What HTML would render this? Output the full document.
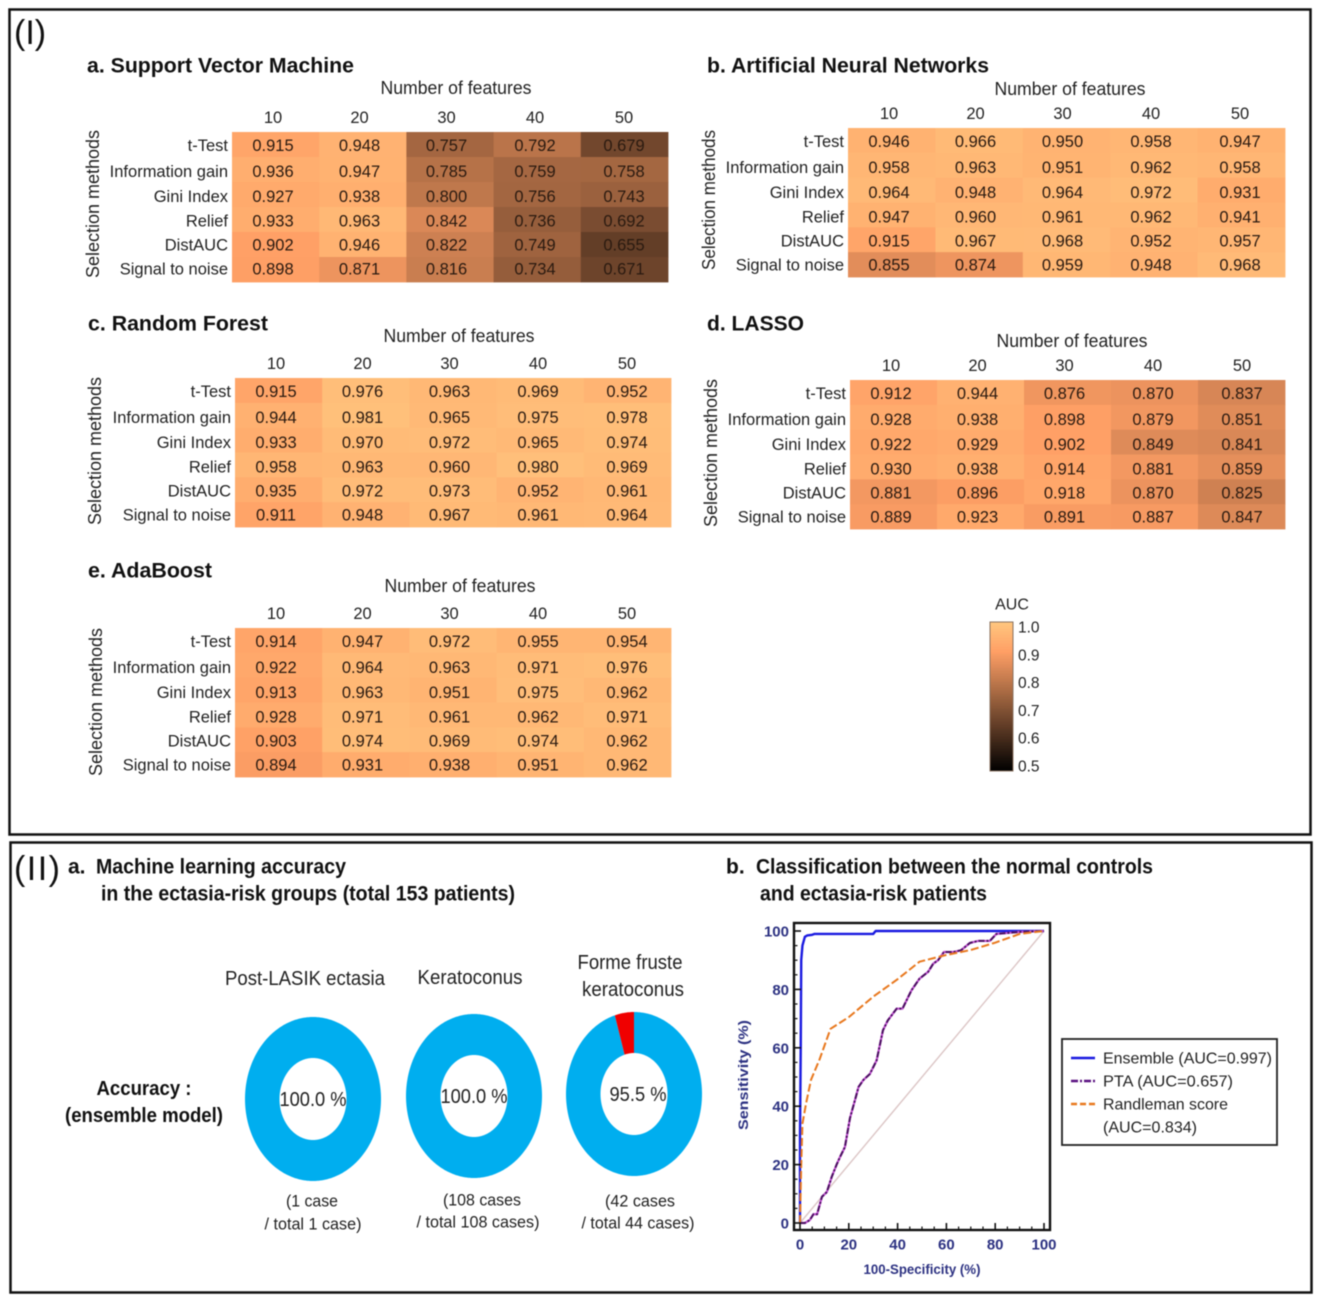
<!DOCTYPE html>
<html>
<head>
<meta charset="utf-8">
<title>AUC heatmaps and ensemble model results</title>
<style>
  html, body { margin: 0; padding: 0; background: #fff; }
  body { width: 1325px; height: 1306px; overflow: hidden; }
  svg { display: block; filter: blur(0.55px); font-family: "Liberation Sans", sans-serif; }
</style>
</head>
<body>
<svg id="figure" xmlns="http://www.w3.org/2000/svg" width="1325" height="1306" viewBox="0 0 1325 1306">
  <rect x="0" y="0" width="1325" height="1306" fill="#fff"/>
  <rect x="9.5" y="9.5" width="1301" height="825" fill="none" stroke="#111" stroke-width="2.5"/>
  <rect x="10.5" y="842.5" width="1301" height="450" fill="none" stroke="#111" stroke-width="2.5"/>
  <text x="14" y="44" font-size="34" fill="#111">(I)</text>
  <text x="14" y="880" font-size="34" fill="#111" textLength="46" lengthAdjust="spacing">(II)</text>
</svg>
<script>
// ---------- heatmap data ----------
const featureCounts = [10, 20, 30, 40, 50];
const selectionMethods = ['t-Test', 'Information gain', 'Gini Index', 'Relief', 'DistAUC', 'Signal to noise'];
const svmValues = [
  [0.915, 0.948, 0.757, 0.792, 0.679],
  [0.936, 0.947, 0.785, 0.759, 0.758],
  [0.927, 0.938, 0.800, 0.756, 0.743],
  [0.933, 0.963, 0.842, 0.736, 0.692],
  [0.902, 0.946, 0.822, 0.749, 0.655],
  [0.898, 0.871, 0.816, 0.734, 0.671]
];
const annValues = [
  [0.946, 0.966, 0.950, 0.958, 0.947],
  [0.958, 0.963, 0.951, 0.962, 0.958],
  [0.964, 0.948, 0.964, 0.972, 0.931],
  [0.947, 0.960, 0.961, 0.962, 0.941],
  [0.915, 0.967, 0.968, 0.952, 0.957],
  [0.855, 0.874, 0.959, 0.948, 0.968]
];
const rfValues = [
  [0.915, 0.976, 0.963, 0.969, 0.952],
  [0.944, 0.981, 0.965, 0.975, 0.978],
  [0.933, 0.970, 0.972, 0.965, 0.974],
  [0.958, 0.963, 0.960, 0.980, 0.969],
  [0.935, 0.972, 0.973, 0.952, 0.961],
  [0.911, 0.948, 0.967, 0.961, 0.964]
];
const lassoValues = [
  [0.912, 0.944, 0.876, 0.870, 0.837],
  [0.928, 0.938, 0.898, 0.879, 0.851],
  [0.922, 0.929, 0.902, 0.849, 0.841],
  [0.930, 0.938, 0.914, 0.881, 0.859],
  [0.881, 0.896, 0.918, 0.870, 0.825],
  [0.889, 0.923, 0.891, 0.887, 0.847]
];
const adaValues = [
  [0.914, 0.947, 0.972, 0.955, 0.954],
  [0.922, 0.964, 0.963, 0.971, 0.976],
  [0.913, 0.963, 0.951, 0.975, 0.962],
  [0.928, 0.971, 0.961, 0.962, 0.971],
  [0.903, 0.974, 0.969, 0.974, 0.962],
  [0.894, 0.931, 0.938, 0.951, 0.962]
];
const colorbarTicks = [1.0, 0.9, 0.8, 0.7, 0.6, 0.5];

// ---------- donut data ----------
const donutNames = ['post-lasik', 'keratoconus', 'forme-fruste'];
const donutCorrect = [1, 108, 42];
const donutTotal = [1, 108, 44];
const donutLabels = ['100.0 %', '100.0 %', '95.5 %'];

// ---------- ROC data ----------
const rocXTicks = [0, 20, 40, 60, 80, 100];
const rocYTicks = [0, 20, 40, 60, 80, 100];
const ensembleFpr = [0, 0, 0.3, 0.5, 1, 2, 3, 5, 6, 30, 31, 100];
const ensembleTpr = [0, 30, 60, 90, 95, 98, 98.5, 98.7, 99, 99, 100, 100];
const ptaFpr = [0, 2, 4, 5.5, 7, 9, 11, 13, 15, 16.4, 18.4, 20.5, 22.5, 24, 26, 28.6, 31.4, 34, 36, 39.6, 42, 45.7, 49, 52.5, 54.6, 56.6, 59, 62.8, 66, 69.6, 73, 77.8, 80.5, 84.6, 90, 100];
const ptaTpr = [0, 0, 1, 3, 3, 9, 10.6, 15.8, 20, 22.6, 26, 36, 42, 46.6, 49, 51, 55.7, 66, 69.4, 73.4, 73.4, 79.7, 83.7, 86, 88.8, 90, 92.8, 92.8, 93.4, 95.9, 96.6, 96.6, 99, 99.3, 99.7, 100];
const randlemanFpr = [0, 0.5, 1, 2.5, 4.5, 8, 12.5, 20, 30, 40, 49, 60, 70, 80, 90, 100];
const randlemanTpr = [0, 20, 34, 41, 49, 56, 66.5, 70.5, 77.5, 83.5, 89.5, 91.8, 93.5, 96, 99, 100];

// ---------- helpers ----------
const NS = 'http://www.w3.org/2000/svg';
const root = document.getElementById('figure');

function make(tag, name, parent) {
  const el = document.createElementNS(NS, tag);
  
  
  parent.appendChild(el);
  return el;
}
function setAll(el, props) {
  for (const k in props) el.setAttribute(k, props[k]);
  return el;
}
function label(parent, name, str, x, y, o) {
  o = o || {};
  const t = make('text', name, parent);
  if (!o.rot) y += 1;
  t.textContent = str;
  t.setAttribute('x', x);
  t.setAttribute('y', y);
  t.setAttribute('font-size', o.size || 17);
  t.setAttribute('fill', o.fill || '#222');
  t.setAttribute('text-anchor', o.anchor || 'middle');
  t.setAttribute('dominant-baseline', 'central');
  if (o.weight) t.setAttribute('font-weight', o.weight);
  if (o.len) {
    t.setAttribute('textLength', o.len);
    t.setAttribute('lengthAdjust', 'spacingAndGlyphs');
  }
  if (o.rot) t.setAttribute('transform', 'rotate(' + o.rot + ' ' + x + ' ' + y + ')');
  return t;
}
// copper colormap over AUC 0.5 - 1.0
function aucColor(v) {
  const t = Math.max(0, Math.min(1, (v - 0.5) / 0.5));
  const r = Math.min(1, 1.25 * t), g = 0.7812 * t, b = 0.4975 * t;
  return 'rgb(' + Math.round(r * 255) + ',' + Math.round(g * 255) + ',' + Math.round(b * 255) + ')';
}

// ---------- heatmaps ----------
// label placement in the source is slightly irregular
const columnLabelOffsets = [0, 86.5, 173.5, 262, 351];
const rowLabelOffsets = [0, 26, 51, 75.5, 99.5, 123.5];

function drawHeatmap(cfg) {
  const g = make('g', 'heatmap-' + cfg.key, root);
  label(g, 'panel-title', cfg.title, cfg.titleX, cfg.titleY, { size: 21, weight: 'bold', anchor: 'start', fill: '#111', len: cfg.titleLen });
  label(g, 'x-axis-title', 'Number of features', cfg.xTitleX, cfg.xTitleY, { size: 18, len: 151 });
  label(g, 'y-axis-title', 'Selection methods', cfg.yTitleX, cfg.yTitleY, { size: 18, rot: -90, len: cfg.yTitleLen || 148 });
  const cw = cfg.w / featureCounts.length;
  const ch = cfg.h / selectionMethods.length;
  const xCell = c => cfg.x + c * cw;
  const yCell = r => cfg.y + r * ch;
  const xText = c => cfg.x + 41 + columnLabelOffsets[c];
  const yText = r => cfg.y + 13 + rowLabelOffsets[r];
  featureCounts.forEach((f, c) => {
    label(g, 'column-label-' + f, String(f), xText(c), cfg.colY, { size: 16.5 });
  });
  selectionMethods.forEach((m, r) => {
    label(g, 'row-label', m, cfg.x - 4, yText(r), { size: 16.5, anchor: 'end' });
    cfg.values[r].forEach((v, c) => {
      const rect = make('rect', 'heatmap-cell', g);
      setAll(rect, { x: xCell(c), y: yCell(r), width: cw + 0.4, height: ch + 0.4, fill: aucColor(v) });
    });
  });
  selectionMethods.forEach((m, r) => {
    cfg.values[r].forEach((v, c) => {
      label(g, 'cell-value', v.toFixed(3), xText(c), yText(r), { size: 16.5, fill: '#2a1a10' });
    });
  });
}

drawHeatmap({ key: 'svm', title: 'a. Support Vector Machine', titleLen: 267, titleX: 87, titleY: 65, xTitleX: 456, xTitleY: 87, yTitleX: 93, yTitleY: 204, colY: 117, x: 232, y: 132, w: 436, h: 150, values: svmValues });
drawHeatmap({ key: 'ann', title: 'b. Artificial Neural Networks', titleLen: 282, titleX: 707, titleY: 65, xTitleX: 1070, xTitleY: 88, yTitleX: 709, yTitleY: 200, yTitleLen: 140, colY: 113, x: 848, y: 128, w: 437, h: 149, values: annValues });
drawHeatmap({ key: 'rf', title: 'c. Random Forest', titleLen: 180, titleX: 88, titleY: 323, xTitleX: 459, xTitleY: 335, yTitleX: 95, yTitleY: 451, colY: 363, x: 235, y: 378, w: 436, h: 149, values: rfValues });
drawHeatmap({ key: 'lasso', title: 'd. LASSO', titleLen: 97, titleX: 707, titleY: 323, xTitleX: 1072, xTitleY: 340, yTitleX: 711, yTitleY: 453, colY: 365, x: 850, y: 380, w: 435, h: 149, values: lassoValues });
drawHeatmap({ key: 'ada', title: 'e. AdaBoost', titleLen: 124, titleX: 88, titleY: 570, xTitleX: 460, xTitleY: 585, yTitleX: 96, yTitleY: 702, colY: 613, x: 235, y: 628, w: 436, h: 149, values: adaValues });

// ---------- colorbar ----------
(function () {
  const g = make('g', 'colorbar', root);
  const defs = make('defs', 'colorbar-defs', g);
  const grad = make('linearGradient', 'colorbar-gradient', defs);
  setAll(grad, { id: 'copperGrad', x1: 0, y1: 0, x2: 0, y2: 1 });
  for (let i = 0; i <= 10; i++) {
    const s = make('stop', 'colorbar-stop', grad);
    setAll(s, { offset: i / 10, 'stop-color': aucColor(1 - i * 0.05) });
  }
  const x0 = 990, top = 622, bottom = 771;
  const yBar = v => 627 + (1.0 - v) / 0.5 * 139;
  const bar = make('rect', 'colorbar-ramp', g);
  setAll(bar, { x: x0, y: top, width: 23, height: bottom - top, fill: 'url(#copperGrad)', stroke: '#8a7260', 'stroke-width': 1 });
  label(g, 'colorbar-title', 'AUC', 1012, 604, { size: 16 });
  colorbarTicks.forEach(v => {
    label(g, 'colorbar-tick-label', v.toFixed(1), 1018, yBar(v), { size: 15.5, anchor: 'start' });
  });
})();

// ---------- section II a ----------
(function () {
  const g = make('g', 'accuracy-panel', root);
  label(g, 'panel-letter', 'a.', 68, 866, { size: 21, weight: 'bold', anchor: 'start', fill: '#111' });
  label(g, 'panel-title-line-1', 'Machine learning accuracy', 96, 866, { size: 21, weight: 'bold', anchor: 'start', fill: '#111', len: 250 });
  label(g, 'panel-title-line-2', 'in the ectasia-risk groups (total 153 patients)', 101, 893, { size: 21, weight: 'bold', anchor: 'start', fill: '#111', len: 414 });
  label(g, 'row-title-accuracy', 'Accuracy :', 144, 1088, { size: 20, weight: 'bold', fill: '#111', len: 95 });
  label(g, 'row-title-model', '(ensemble model)', 144, 1115, { size: 20, weight: 'bold', fill: '#111', len: 158 });

  const heads = [
    ['Post-LASIK ectasia', 305, 978, 160],
    ['Keratoconus', 470, 977, 105],
    ['Forme fruste', 630, 962, 105],
    ['keratoconus', 633, 989, 102]
  ];
  heads.forEach(h => label(g, 'group-heading', h[0], h[1], h[2], { size: 20, len: h[3] }));

  const centersX = [313, 474, 634];
  const centersY = [1099, 1096, 1094];
  const textX = [313, 474, 638];
  const textY = [1099, 1096, 1094];
  const rx = 68, ry = 82, hx = 33.5, hy = 41;

  function ringSegment(cx, cy, a0, a1) {
    const pts = [], inner = [];
    const n = Math.max(2, Math.ceil(a1 - a0));
    for (let i = 0; i <= n; i++) {
      const a = (a0 + (a1 - a0) * i / n) * Math.PI / 180;
      pts.push((cx + rx * Math.sin(a)).toFixed(2) + ' ' + (cy - ry * Math.cos(a)).toFixed(2));
      inner.unshift((cx + hx * Math.sin(a)).toFixed(2) + ' ' + (cy - hy * Math.cos(a)).toFixed(2));
    }
    return 'M' + pts.join('L') + 'L' + inner.join('L') + 'Z';
  }

  donutCorrect.forEach((correct, i) => {
    const dg = make('g', 'donut-' + donutNames[i], g);
    const frac = correct / donutTotal[i];
    const blue = make('path', 'donut-correct-segment', dg);
    setAll(blue, { d: ringSegment(centersX[i], centersY[i], 0, 360 * frac), fill: '#00aeef' });
    if (frac < 1) {
      const red = make('path', 'donut-error-segment', dg);
      setAll(red, { d: ringSegment(centersX[i], centersY[i], 360 * frac, 360), fill: '#f00000' });
    }
    label(dg, 'donut-value', donutLabels[i], textX[i], textY[i], { size: 20, fill: '#222', len: i === 2 ? 57 : 67 });
  });

  const caps = [
    ['(1 case', 312, 1200, 52],
    ['/ total 1 case)', 313, 1223, 97],
    ['(108 cases', 482, 1199, 78],
    ['/ total 108 cases)', 478, 1221, 123],
    ['(42 cases', 640, 1200, 70],
    ['/ total 44 cases)', 638, 1222, 113]
  ];
  caps.forEach(c => label(g, 'donut-caption', c[0], c[1], c[2], { size: 17, len: c[3] }));
})();

// ---------- section II b : ROC ----------
(function () {
  const g = make('g', 'roc-panel', root);
  label(g, 'panel-letter', 'b.', 726, 866, { size: 21, weight: 'bold', anchor: 'start', fill: '#111' });
  label(g, 'panel-title-line-1', 'Classification between the normal controls', 756, 866, { size: 21, weight: 'bold', anchor: 'start', fill: '#111', len: 397 });
  label(g, 'panel-title-line-2', 'and ectasia-risk patients', 760, 893, { size: 21, weight: 'bold', anchor: 'start', fill: '#111', len: 227 });

  const navy = '#2d3282';
  const fx = 794, fy = 923, fr = 1050, fb = 1230;
  const xs = v => 800 + v * 2.44;
  const ys = v => 1223 - v * 2.92;

  function series(name, X, Y, stroke, width, dash) {
    const p = make('polyline', name, g);
    setAll(p, { points: X.map((x, i) => xs(x).toFixed(2) + ',' + ys(Y[i]).toFixed(2)).join(' '), fill: 'none', stroke: stroke, 'stroke-width': width, 'stroke-linejoin': 'round' });
    if (dash) p.setAttribute('stroke-dasharray', dash);
  }

  series('reference-diagonal', [0, 100], [0, 100], '#dcc6c6', 1.4);
  series('ensemble-line', ensembleFpr, ensembleTpr, '#1a1ae0', 2.4);
  series('pta-halo-line', ptaFpr, ptaTpr, '#c050d0', 2.2);
  series('pta-line', ptaFpr, ptaTpr, '#4a1060', 2, '6 2 2 2');
  series('randleman-line', randlemanFpr, randlemanTpr, '#e8781e', 2, '8 3');

  // frame and ticks
  const frame = make('rect', 'plot-frame', g);
  setAll(frame, { x: fx, y: fy, width: fr - fx, height: fb - fy, fill: 'none', stroke: '#111', 'stroke-width': 2.4 });
  for (let v = 0; v <= 100; v += 5) {
    const major = v % 20 === 0;
    const tx = make('line', 'x-tick', g);
    setAll(tx, { x1: xs(v), x2: xs(v), y1: fb, y2: fb - (major ? 7 : 3.5), stroke: '#111', 'stroke-width': major ? 1.6 : 1.2 });
    const ty = make('line', 'y-tick', g);
    setAll(ty, { x1: fx, x2: fx + (major ? 7 : 3.5), y1: ys(v), y2: ys(v), stroke: '#111', 'stroke-width': major ? 1.6 : 1.2 });
  }
  rocXTicks.forEach(v => {
    label(g, 'x-tick-label', String(v), xs(v), 1244, { size: 15, weight: 'bold', fill: navy });
  });
  rocYTicks.forEach(v => {
    label(g, 'y-tick-label', String(v), 789, ys(v), { size: 15, weight: 'bold', fill: navy, anchor: 'end' });
  });
  label(g, 'x-axis-title', '100-Specificity (%)', 922, 1268, { size: 14, weight: 'bold', fill: navy, len: 117 });
  label(g, 'y-axis-title', 'Sensitivity (%)', 743, 1075, { size: 14, weight: 'bold', fill: navy, rot: -90, len: 110 });

  // legend
  const lg = make('g', 'legend', g);
  const box = make('rect', 'legend-box', lg);
  setAll(box, { x: 1062, y: 1039, width: 215, height: 106, fill: '#fff', stroke: '#222', 'stroke-width': 1.8 });
  const swatches = [
    ['legend-swatch-ensemble', 1058, '#1a1ae0', 2.6, null],
    ['legend-swatch-pta', 1081, '#5a1080', 2.4, '7 2 2 2'],
    ['legend-swatch-randleman', 1104, '#e8781e', 2.4, '6 3']
  ];
  swatches.forEach(s => {
    const l = make('line', s[0], lg);
    setAll(l, { x1: 1071, x2: 1095, y1: s[1], y2: s[1], stroke: s[2], 'stroke-width': s[3] });
    if (s[4]) l.setAttribute('stroke-dasharray', s[4]);
  });
  label(lg, 'legend-entry-ensemble', 'Ensemble (AUC=0.997)', 1103, 1058, { size: 16, anchor: 'start', len: 169 });
  label(lg, 'legend-entry-pta', 'PTA (AUC=0.657)', 1103, 1081, { size: 16, anchor: 'start', len: 130 });
  label(lg, 'legend-entry-randleman', 'Randleman score', 1103, 1104, { size: 16, anchor: 'start', len: 125 });
  label(lg, 'legend-entry-randleman-auc', '(AUC=0.834)', 1103, 1127, { size: 16, anchor: 'start', len: 94 });
})();
</script>
</body>
</html>
